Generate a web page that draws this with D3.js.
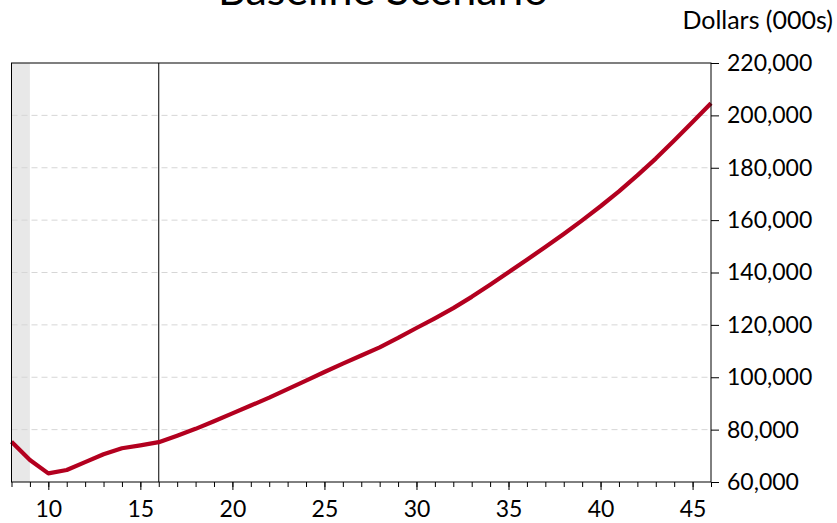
<!DOCTYPE html>
<html>
<head>
<meta charset="utf-8">
<script src="https://cdn.jsdelivr.net/npm/d3@7"></script>
<style>
  html, body { margin: 0; padding: 0; background: #fff; }
  svg { display: block; font-family: Lato, "Open Sans", sans-serif; }
</style>
</head>
<body>
<svg id="chart" width="837" height="523"></svg>
<script>
// Baseline scenario, dollars (000s) by year index
const years = [8, 9, 10, 11, 12, 13, 14, 15, 16, 17, 18, 19, 20, 21, 22, 23, 24, 25, 26, 27,
               28, 29, 30, 31, 32, 33, 34, 35, 36, 37, 38, 39, 40, 41, 42, 43, 44, 45, 46];
const baseline = [75400, 68400, 63300, 64600, 67600, 70600, 72900, 74000, 75200, 77700,
                  80300, 83200, 86200, 89200, 92200, 95500, 98700, 102000, 105200, 108300,
                  111400, 115000, 118800, 122500, 126400, 130700, 135300, 140100, 144900, 149700,
                  154700, 159900, 165300, 171000, 177100, 183500, 190400, 197500, 204600];
const yTicks = [60000, 80000, 100000, 120000, 140000, 160000, 180000, 200000, 220000];
const xLabelTicks = [10, 15, 20, 25, 30, 35, 40, 45];
const shadeRange = [8, 9];
const markerYear = 16;

const title = "Baseline Scenario";
const unitLabel = "Dollars (000s)";

const FONT = "Lato, 'Open Sans', sans-serif";
const svg = d3.select("#chart");
const margin = { left: 11, right: 126, top: 63, bottom: 41 };
const W = 837, H = 523;

const x = d3.scaleLinear().domain([8, 46]).range([margin.left + 0.5, W - margin.right]);
const y = d3.scaleLinear().domain([60000, 220000]).range([H - margin.bottom, margin.top]);

// shaded band
svg.append("rect")
  .attr("x", x(shadeRange[0]))
  .attr("y", y(220000))
  .attr("width", x(shadeRange[1]) - x(shadeRange[0]))
  .attr("height", y(60000) - y(220000))
  .attr("fill", "#e8e8e8");

// dashed gridlines
svg.append("g")
  .selectAll("line")
  .data(yTicks.slice(1, -1))
  .join("line")
  .attr("x1", x(8)).attr("x2", x(46))
  .attr("y1", d => y(d)).attr("y2", d => y(d))
  .attr("stroke", "#d6d6d6")
  .attr("stroke-width", 1)
  .attr("stroke-dasharray", "6,4");

// vertical marker
svg.append("line")
  .attr("x1", x(markerYear)).attr("x2", x(markerYear))
  .attr("y1", y(220000)).attr("y2", y(60000))
  .attr("stroke", "#000").attr("stroke-width", 1);

// series line
const line = d3.line().x((d, i) => x(years[i])).y(d => y(d));
svg.append("path")
  .datum(baseline)
  .attr("d", line)
  .attr("fill", "none")
  .attr("stroke", "#b3001f")
  .attr("stroke-width", 4.2)
  .attr("stroke-linejoin", "round");

// frame
svg.append("rect")
  .attr("x", x(8)).attr("y", y(220000))
  .attr("width", x(46) - x(8)).attr("height", y(60000) - y(220000))
  .attr("fill", "none").attr("stroke", "#000").attr("stroke-width", 1);

// right axis
const yAxis = d3.axisRight(y)
  .tickValues(yTicks)
  .tickFormat(d3.format(",.0f"))
  .tickSize(8)
  .tickPadding(8);
const gy = svg.append("g")
  .attr("transform", `translate(${x(46)},0)`)
  .call(yAxis);
gy.select(".domain").remove();
gy.selectAll("text").attr("font-size", 23).attr("font-family", FONT).attr("fill", "#000");
gy.selectAll("line").attr("stroke", "#000");

// bottom axis: minor ticks each year, labels every five
const xMinor = d3.axisBottom(x)
  .tickValues(d3.range(8, 47))
  .tickFormat("")
  .tickSize(5);
const gxm = svg.append("g")
  .attr("transform", `translate(0,${y(60000)})`)
  .call(xMinor);
gxm.select(".domain").remove();
gxm.selectAll("line").attr("stroke", "#000");

const xAxis = d3.axisBottom(x)
  .tickValues(xLabelTicks)
  .tickFormat(d3.format("d"))
  .tickSize(8)
  .tickPadding(11);
const gx = svg.append("g")
  .attr("transform", `translate(0,${y(60000)})`)
  .call(xAxis);
gx.select(".domain").remove();
gx.selectAll("line").attr("stroke", "#000");
gx.selectAll("text").attr("font-size", 23).attr("font-family", FONT).attr("fill", "#000");

// unit label
svg.append("text")
  .attr("x", 833).attr("y", 29)
  .attr("text-anchor", "end")
  .attr("font-size", 25)
  .attr("font-family", FONT)
  .attr("fill", "#000")
  .text(unitLabel);

// title
svg.append("text")
  .attr("x", 383).attr("y", 5)
  .attr("text-anchor", "middle")
  .attr("font-size", 43)
  .attr("font-family", FONT)
  .attr("fill", "#000")
  .text(title);
</script>
</body>
</html>
